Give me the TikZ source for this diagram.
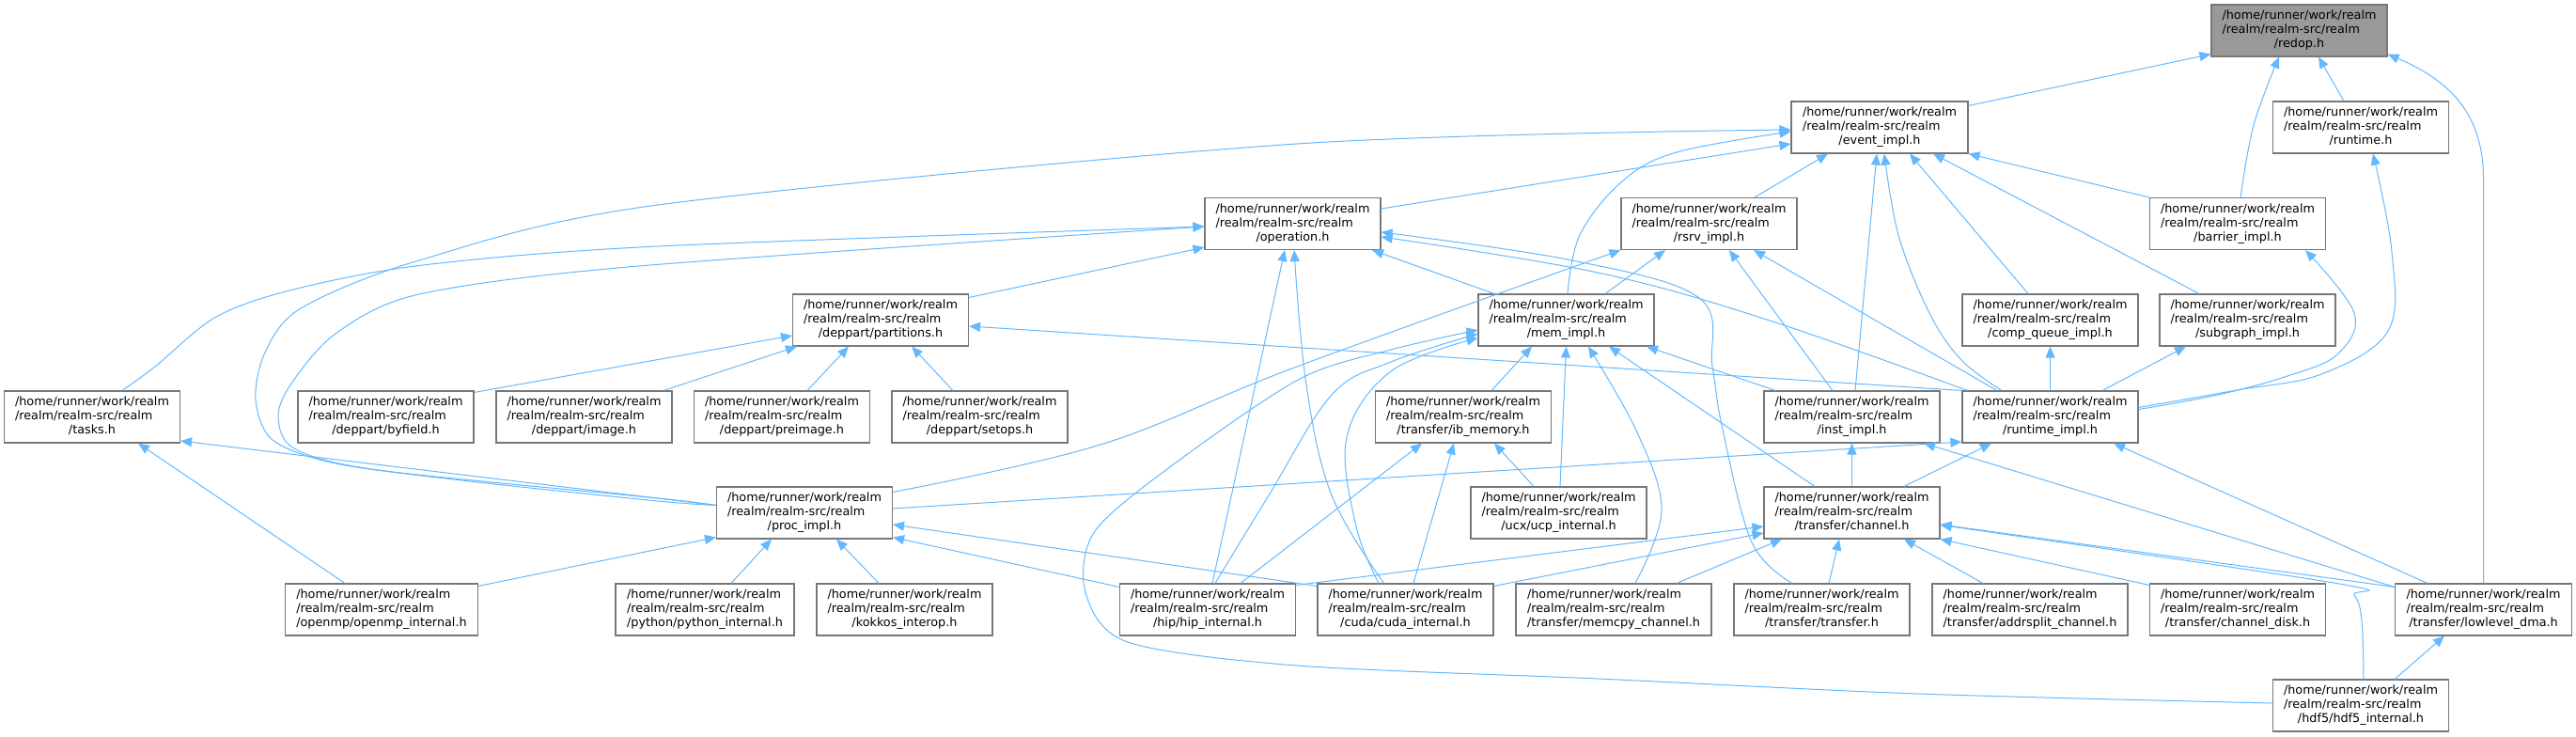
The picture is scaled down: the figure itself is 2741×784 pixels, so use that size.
\documentclass[tikz,border=0pt]{standalone}
\usepackage{fontspec}
\setmainfont{DejaVu Sans}
\usetikzlibrary{arrows.meta}
\definecolor{steel}{HTML}{63B8FF}
\definecolor{gFour}{HTML}{777777}
\definecolor{gSix}{HTML}{999999}
\newcommand{\lbl}[1]{\begin{tabular}{@{}l@{}}/home/runner/work/realm\\/realm/realm-src/realm\\\multicolumn{1}{@{}c@{}}{#1}\end{tabular}}
\tikzset{
  box/.style={draw=gFour, line width=1.1pt, fill=white, minimum height=55pt, minimum width=187pt, inner sep=0pt, font=\fontsize{12.8}{15}\selectfont},
  rootbox/.style={box, fill=gSix},
  edge/.style={draw=steel, line width=1pt, -{Triangle[length=12pt,width=10pt]}},
}
\begin{document}
\begin{tikzpicture}[x=1pt,y=-1pt]
\useasboundingbox (0,0) rectangle (2741,784);
% row 0
\node[rootbox] (redop) at (2446.5,32.5) {\lbl{/redop.h}};
% row 1
\node[box,minimum width=188pt] (event) at (2000,135.5) {\lbl{/event\_impl.h}};
\node[box] (runtime) at (2512,135.5) {\lbl{/runtime.h}};
% row 2
\node[box] (operation) at (1375.5,238) {\lbl{/operation.h}};
\node[box] (rsrv) at (1818.5,238) {\lbl{/rsrv\_impl.h}};
\node[box] (barrier) at (2381,238) {\lbl{/barrier\_impl.h}};
% row 3
\node[box] (partitions) at (937,340.5) {\lbl{/deppart/partitions.h}};
\node[box] (mem) at (1666.5,340.5) {\lbl{/mem\_impl.h}};
\node[box] (compq) at (2181.5,340.5) {\lbl{/comp\_queue\_impl.h}};
\node[box] (subgraph) at (2391.5,340.5) {\lbl{/subgraph\_impl.h}};
% row 4
\node[box] (tasks) at (98,443.5) {\lbl{/tasks.h}};
\node[box] (byfield) at (410.5,443.5) {\lbl{/deppart/byfield.h}};
\node[box] (image) at (621.5,443.5) {\lbl{/deppart/image.h}};
\node[box] (preimage) at (832,443.5) {\lbl{/deppart/preimage.h}};
\node[box] (setops) at (1042.5,443.5) {\lbl{/deppart/setops.h}};
\node[box] (ibmem) at (1557,443.5) {\lbl{/transfer/ib\_memory.h}};
\node[box] (inst) at (1970.5,443.5) {\lbl{/inst\_impl.h}};
\node[box] (rtimpl) at (2181.5,443.5) {\lbl{/runtime\_impl.h}};
% row 5
\node[box] (proc) at (856,545.5) {\lbl{/proc\_impl.h}};
\node[box] (ucp) at (1658.5,545.5) {\lbl{/ucx/ucp\_internal.h}};
\node[box] (channel) at (1970.5,545.5) {\lbl{/transfer/channel.h}};
% row 6
\node[box,minimum width=205pt] (openmp) at (406,648.5) {\lbl{/openmp/openmp\_internal.h}};
\node[box,minimum width=190pt] (python) at (750,648.5) {\lbl{/python/python\_internal.h}};
\node[box] (kokkos) at (962.5,648.5) {\lbl{/kokkos\_interop.h}};
\node[box] (hip) at (1285,648.5) {\lbl{/hip/hip\_internal.h}};
\node[box] (cuda) at (1495.5,648.5) {\lbl{/cuda/cuda\_internal.h}};
\node[box,minimum width=208pt] (memcpy) at (1717,648.5) {\lbl{/transfer/memcpy\_channel.h}};
\node[box] (transfer) at (1938.5,648.5) {\lbl{/transfer/transfer.h}};
\node[box,minimum width=208pt] (addrsplit) at (2160,648.5) {\lbl{/transfer/addrsplit\_channel.h}};
\node[box] (chdisk) at (2381,648.5) {\lbl{/transfer/channel\_disk.h}};
\node[box,minimum width=188pt] (lowdma) at (2642.5,648.5) {\lbl{/transfer/lowlevel\_dma.h}};
% row 7
\node[box] (hdf5) at (2512,750.5) {\lbl{/hdf5/hdf5\_internal.h}};

% ---- edges (arrow at included file) ----
% redop
\draw[edge] ([yshift=-5pt]event.north east) -- ([yshift=3pt]redop.south west);
\draw[edge] plot[smooth,tension=0.6] coordinates {([xshift=3pt]barrier.north) (2398,133) ([xshift=-21.5pt]redop.south)};
\draw[edge] ([xshift=-18pt]runtime.north) -- ([xshift=20.5pt]redop.south);
\draw[edge] (lowdma.north) -- (2642.5,190) .. controls (2642.5,120) and (2605,85) .. ([yshift=3pt]redop.south east);
% event_impl
\draw[edge] ([yshift=16pt]operation.east) -- ([yshift=-17.5pt]event.west);
\draw[edge] plot[smooth,tension=0.5] coordinates {([yshift=8pt]proc.west) (700,533) (500,512) (357,493) (290,468) (272,425) (282,375) (320,328) (446,277) (700,218) (1380,153) ([yshift=-2.5pt]event.west)};
\draw[edge] ([xshift=48.5pt]rsrv.north) -- ([xshift=-55pt]event.south);
\draw[edge] plot[smooth,tension=0.6] coordinates {([xshift=1.5pt]mem.north) (1681,250) (1726,193) (1784,162) ([yshift=-4.5pt]event.west)};
\draw[edge] (barrier.north west) -- (event.south east);
\draw[edge] ([xshift=-23.5pt]compq.north) -- ([xshift=32pt]event.south);
\draw[edge] ([xshift=-51.5pt]subgraph.north) -- ([xshift=57pt]event.south);
\draw[edge] ([xshift=3.5pt]inst.north) -- ([xshift=-3pt]event.south);
\draw[edge] plot[smooth,tension=0.6] coordinates {([xshift=-51.5pt]rtimpl.north) (2087,383) (2053,333) (2020,250) ([xshift=5pt]event.south)};
% operation
\draw[edge] plot[smooth,tension=0.5] coordinates {([yshift=8pt]proc.west) (700,530) (402,500) (313,477) (296,443) (310,408) (357,355) (446,313) (680,283) ([yshift=-3pt]operation.west)};
\draw[edge] plot[smooth,tension=0.5] coordinates {([xshift=32pt]tasks.north) (165,390) (230,337) (312,308) (450,282) (700,262) ([yshift=-3pt]operation.west)};
\draw[edge] ([yshift=-4pt]partitions.north east) -- ([yshift=3pt]operation.south west);
\draw[edge] ([xshift=-76.5pt]mem.north) -- ([xshift=-9.5pt]operation.south east);
\draw[edge] ([xshift=5pt]hip.north) -- ([xshift=-8.5pt]operation.south);
\draw[edge] plot[smooth,tension=0.6] coordinates {([xshift=-23pt]cuda.north) (1417,527) (1390,410) ([xshift=1.5pt]operation.south)};
\draw[edge] plot[smooth,tension=0.6] coordinates {([xshift=-31.5pt]transfer.north) (1864,577) (1833,457) (1822,390) (1808,317) (1673,277) ([yshift=-9pt]operation.east)};
\draw[edge] plot[smooth,tension=0.6] coordinates {([xshift=-88pt]rtimpl.north) (1880,340) (1700,290) ([yshift=-14pt]operation.east)};
% tasks
\draw[edge] ([yshift=8pt]proc.west) -- ([yshift=-25.5pt]tasks.east);
\draw[edge] ([xshift=-39pt]openmp.north) -- ([xshift=49pt]tasks.south);
% proc_impl
\draw[edge] ([yshift=-3pt]openmp.north east) -- ([yshift=2pt]proc.south west);
\draw[edge] ([xshift=28pt]python.north) -- ([xshift=-35pt]proc.south);
\draw[edge] ([xshift=-27.5pt]kokkos.north) -- ([xshift=34pt]proc.south);
\draw[edge] ([yshift=-4pt]hip.north west) -- ([yshift=2pt]proc.south east);
\draw[edge] ([yshift=-3pt]cuda.north west) -- ([yshift=-12.5pt]proc.east);
% rsrv_impl
\draw[edge] plot[smooth,tension=0.6] coordinates {([yshift=-6pt]proc.north east) (1171,473) (1380,390) (rsrv.south west)};
\draw[edge] ([xshift=41.5pt]mem.north) -- ([xshift=-46.5pt]rsrv.south);
\draw[edge] ([xshift=-20.5pt]inst.north) -- ([xshift=21.5pt]rsrv.south);
\draw[edge] ([xshift=-56.5pt]rtimpl.north) -- ([xshift=47.5pt]rsrv.south);
% partitions
\draw[edge] ([yshift=-2pt]byfield.north east) -- ([yshift=-16.5pt]partitions.west);
\draw[edge] ([xshift=84.5pt]image.north) -- ([xshift=5pt]partitions.south west);
\draw[edge] ([xshift=27pt]preimage.north) -- ([xshift=-34pt]partitions.south);
\draw[edge] ([xshift=-28.5pt]setops.north) -- ([xshift=33pt]partitions.south);
\draw[edge] (rtimpl.north west) -- ([yshift=-6.5pt]partitions.east);
% mem_impl
\draw[edge] ([xshift=30pt]ibmem.north) -- ([xshift=-36.5pt]mem.south);
\draw[edge] ([xshift=1.5pt]ucp.north) -- (mem.south);
\draw[edge] plot[smooth,tension=0.6] coordinates {([xshift=23pt]memcpy.north) (1768,543) (1742,460) ([xshift=23.5pt]mem.south)};
\draw[edge] ([xshift=-39.5pt]channel.north) -- ([xshift=45.5pt]mem.south);
\draw[edge] ([xshift=-81.5pt]inst.north) -- ([xshift=85.5pt]mem.south);
\draw[edge] plot[smooth,tension=0.6] coordinates {([xshift=8pt]hip.north) (1350,527) (1417,420) (1480,385) ([yshift=-14.5pt]mem.west)};
\draw[edge] plot[smooth,tension=0.6] coordinates {([xshift=-28.5pt]cuda.north) (1443,560) (1433,465) (1480,395) ([yshift=-19pt]mem.west)};
\draw[edge] plot[smooth,tension=0.5] coordinates {([yshift=2.5pt]hdf5.west) (2040,738) (1700,722) (1380,708) (1200,683) (1155,630) (1165,565) (1250,493) (1383,403) (1480,372) ([yshift=-10.5pt]mem.west)};
% inst_impl
\draw[edge] (channel.north) -- (inst.south);
\draw[edge] ([yshift=-4pt]lowdma.north west) -- ([xshift=76.5pt]inst.south);
% runtime_impl
\draw[edge] ([yshift=4.5pt]proc.east) -- ([yshift=-26.5pt]rtimpl.west);
\draw[edge] ([xshift=55.5pt]channel.north) -- ([xshift=-62.5pt]rtimpl.south);
\draw[edge] ([xshift=-59.5pt]lowdma.north) -- ([xshift=67.5pt]rtimpl.south);
% runtime.h, barrier, comp_queue, subgraph
\draw[edge] plot[smooth,tension=0.6] coordinates {([yshift=10pt]rtimpl.east) (2380,415) (2470,398) (2541,352) (2545,268) ([xshift=13pt]runtime.south)};
\draw[edge] plot[smooth,tension=0.6] coordinates {([yshift=8pt]rtimpl.east) (2360,420) (2434,400) (2487,377) (2505,333) ([xshift=72pt]barrier.south)};
\draw[edge] (rtimpl.north) -- (compq.south);
\draw[edge] ([xshift=55.5pt]rtimpl.north) -- ([xshift=-65.5pt]subgraph.south);
% ib_memory
\draw[edge] ([xshift=35pt]hip.north) -- ([xshift=-44pt]ibmem.south);
\draw[edge] ([xshift=8.5pt]cuda.north) -- ([xshift=-10pt]ibmem.south);
\draw[edge] ([xshift=-26.5pt]ucp.north) -- ([xshift=33pt]ibmem.south);
% channel
\draw[edge] ([yshift=-2pt]hip.north east) -- ([yshift=-14.5pt]channel.west);
\draw[edge] ([yshift=-3pt]cuda.north east) -- ([yshift=-21.5pt]channel.west);
\draw[edge] ([xshift=67pt]memcpy.north) -- ([xshift=-74.5pt]channel.south);
\draw[edge] ([xshift=7.5pt]transfer.north) -- ([xshift=-13.5pt]channel.south);
\draw[edge] ([xshift=-50pt]addrsplit.north) -- ([xshift=55.5pt]channel.south);
\draw[edge] ([yshift=-2pt]chdisk.north west) -- (channel.south east);
\draw[edge] ([yshift=-4pt]lowdma.north west) -- ([yshift=-12.5pt]channel.east);
\draw[edge] plot[smooth,tension=0.6] coordinates {([xshift=3pt]hdf5.north) (2513,660) (2505,633) (2483,620) ([yshift=-13pt]channel.east)};
% lowlevel_dma
\draw[edge] ([xshift=36pt]hdf5.north) -- ([xshift=-41.5pt]lowdma.south);
\end{tikzpicture}
\end{document}
